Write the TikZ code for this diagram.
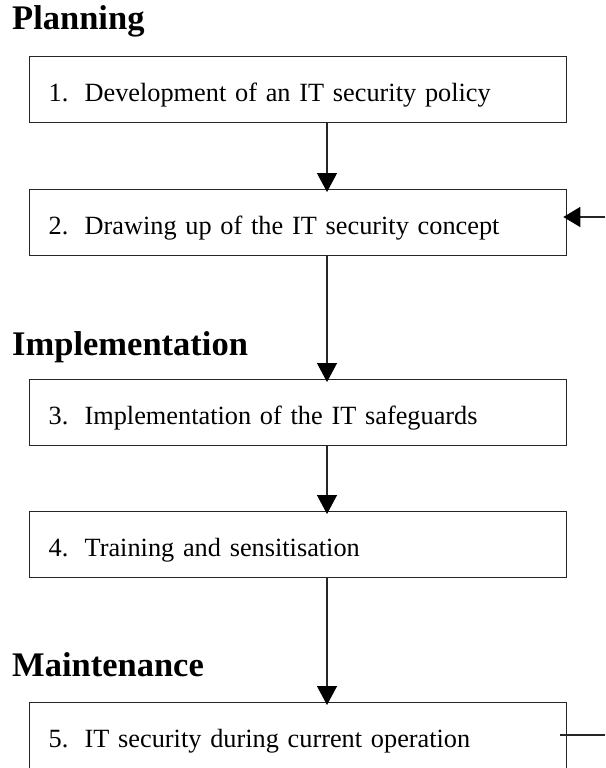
\documentclass[tikz,border=0pt]{standalone}
\usepackage{fontspec}
\setmainfont{Liberation Serif}
\usetikzlibrary{arrows.meta}

\tikzset{
  phase/.style={anchor=base west, inner sep=0pt,
    font=\fontsize{34.5}{41}\selectfont\bfseries},
  stepbox/.style={draw=black!85, line width=1.3pt, anchor=north west,
    minimum width=537pt, minimum height=66pt, text width=499pt,
    inner xsep=19pt, inner ysep=0pt, align=left,
    text height=24pt, text depth=0pt,
    font=\fontsize{26.3}{32}\selectfont},
  flow/.style={draw=black!85, line width=1.3pt,
    -{Triangle[length=19pt,width=20pt,fill=black,color=black]}, shorten >=-3pt},
  feed/.style={draw=black!85, line width=1.3pt}
}
\newcommand{\stepno}[1]{\makebox[36pt][l]{#1}}

\begin{document}
\begin{tikzpicture}[x=1pt, y=-1pt]
  \useasboundingbox (0,0) rectangle (605,768);

  % phase headings
  \node[phase] (planning) at (12,30) {Planning};
  \node[phase] (implementation) at (12,355) {Implementation};
  \node[phase] (maintenance) at (12,676) {Maintenance};

  % process steps
  \node[stepbox] (b1) at (29,56)  {\stepno{1.}Development of an IT security policy};
  \node[stepbox] (b2) at (29,189) {\stepno{2.}Drawing up of the IT security concept};
  \node[stepbox] (b3) at (29,379) {\stepno{3.}Implementation of the IT safeguards};
  \node[stepbox] (b4) at (29,511) {\stepno{4.}Training and sensitisation};
  \node[stepbox] (b5) at (29,702) {\stepno{5.}IT security during current operation};

  % vertical flow line
  \coordinate (spine) at (327,0);
  \draw[flow] (b1.south -| spine) -- (b2.north -| spine);
  \draw[flow] (b2.south -| spine) -- (b3.north -| spine);
  \draw[flow] (b3.south -| spine) -- (b4.north -| spine);
  \draw[flow] (b4.south -| spine) -- (b5.north -| spine);

  % feedback from operation back into the concept
  \coordinate (fbin) at (605,217);
  \coordinate (fbout) at (605,735);
  \draw[feed, -{Triangle[length=17pt,width=20pt,fill=black,color=black]}, shorten >=-4pt]
    (fbin) -- (b2.east |- fbin);
  \draw[feed, shorten <=-7pt] (b5.east |- fbout) -- (fbout);
\end{tikzpicture}
\end{document}
